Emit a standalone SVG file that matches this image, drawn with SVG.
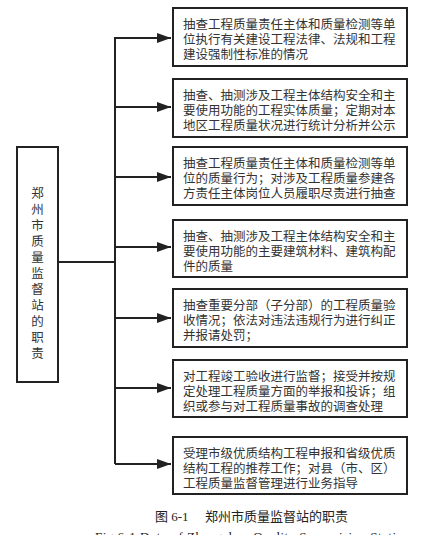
<svg xmlns="http://www.w3.org/2000/svg" width="437" height="535" viewBox="0 0 437 535">
<style>
.box{fill:#fff;stroke:#222;stroke-width:2}
.t{font-family:"Noto Sans CJK SC","Noto Sans",sans-serif;font-size:12.5px;fill:#333}
.c{fill:none;stroke:#222;stroke-width:2}
.cap{font-family:"Liberation Serif","Noto Sans CJK SC",serif;font-size:13px;fill:#222}
</style>
<defs>
<marker id="ah" markerWidth="14" markerHeight="10" refX="14" refY="5" orient="auto" markerUnits="userSpaceOnUse">
<path d="M0,0 L14,5 L0,10 Z" fill="#222"/>
</marker>
</defs>
<rect width="437" height="535" fill="#fff"/>
<g id="connectors">
<path class="c" d="M58,262 H115"/>
<path class="c" d="M115,464 V38 H171" marker-end="url(#ah)"/>
<path class="c" d="M115,107 H171" marker-end="url(#ah)"/>
<path class="c" d="M115,177 H171" marker-end="url(#ah)"/>
<path class="c" d="M115,247 H171" marker-end="url(#ah)"/>
<path class="c" d="M115,318 H171" marker-end="url(#ah)"/>
<path class="c" d="M115,388 H171" marker-end="url(#ah)"/>
<path class="c" d="M115,464 H171" marker-end="url(#ah)"/>
</g>
<g id="root">
<rect class="box" x="17" y="147" width="41" height="235"/>
<text class="t" x="37.5" text-anchor="middle">
<tspan x="37.5" y="198">郑</tspan><tspan x="37.5" y="214">州</tspan><tspan x="37.5" y="230">市</tspan><tspan x="37.5" y="246">质</tspan><tspan x="37.5" y="262">量</tspan><tspan x="37.5" y="278">监</tspan><tspan x="37.5" y="294">督</tspan><tspan x="37.5" y="310">站</tspan><tspan x="37.5" y="326">的</tspan><tspan x="37.5" y="342">职</tspan><tspan x="37.5" y="358">责</tspan>
</text>
</g>
<g id="n1">
<rect class="box" x="173" y="8" width="234" height="58"/>
<text class="t"><tspan x="183" y="28.5">抽查工程质量责任主体和质量检测等单</tspan><tspan x="183" y="43.5">位执行有关建设工程法律、法规和工程</tspan><tspan x="183" y="58.5">建设强制性标准的情况</tspan></text>
</g>
<g id="n2">
<rect class="box" x="173" y="79" width="234" height="58"/>
<text class="t"><tspan x="183" y="99.5">抽查、抽测涉及工程主体结构安全和主</tspan><tspan x="183" y="114.5">要使用功能的工程实体质量；定期对本</tspan><tspan x="183" y="129.5">地区工程质量状况进行统计分析并公示</tspan></text>
</g>
<g id="n3">
<rect class="box" x="173" y="147" width="234" height="58"/>
<text class="t"><tspan x="183" y="167.5">抽查工程质量责任主体和质量检测等单</tspan><tspan x="183" y="182.5">位的质量行为；对涉及工程质量参建各</tspan><tspan x="183" y="197.5">方责任主体岗位人员履职尽责进行抽查</tspan></text>
</g>
<g id="n4">
<rect class="box" x="173" y="220" width="234" height="57"/>
<text class="t"><tspan x="183" y="240.5">抽查、抽测涉及工程主体结构安全和主</tspan><tspan x="183" y="255.5">要使用功能的主要建筑材料、建筑构配</tspan><tspan x="183" y="270.5">件的质量</tspan></text>
</g>
<g id="n5">
<rect class="box" x="173" y="289" width="234" height="58"/>
<text class="t"><tspan x="183" y="309.5">抽查重要分部（子分部）的工程质量验</tspan><tspan x="183" y="324.5">收情况；依法对违法违规行为进行纠正</tspan><tspan x="183" y="339.5">并报请处罚；</tspan></text>
</g>
<g id="n6">
<rect class="box" x="173" y="360" width="234" height="57"/>
<text class="t"><tspan x="183" y="380.5">对工程竣工验收进行监督；接受并按规</tspan><tspan x="183" y="395.5">定处理工程质量方面的举报和投诉；组</tspan><tspan x="183" y="410.5">织或参与对工程质量事故的调查处理</tspan></text>
</g>
<g id="n7">
<rect class="box" x="173" y="437" width="234" height="57"/>
<text class="t"><tspan x="183" y="457.5">受理市级优质结构工程申报和省级优质</tspan><tspan x="183" y="472.5">结构工程的推荐工作；对县（市、区）</tspan><tspan x="183" y="487.5">工程质量监督管理进行业务指导</tspan></text>
</g>
<g id="caption">
<text class="cap" x="155" y="521">图 6-1<tspan x="205">郑州市质量监督站的职责</tspan></text>
<text class="cap" x="95" y="541" textLength="315" lengthAdjust="spacing">Fig 6-1   Duty of Zhengzhou Quality Supervision Station</text>
</g>
</svg>
